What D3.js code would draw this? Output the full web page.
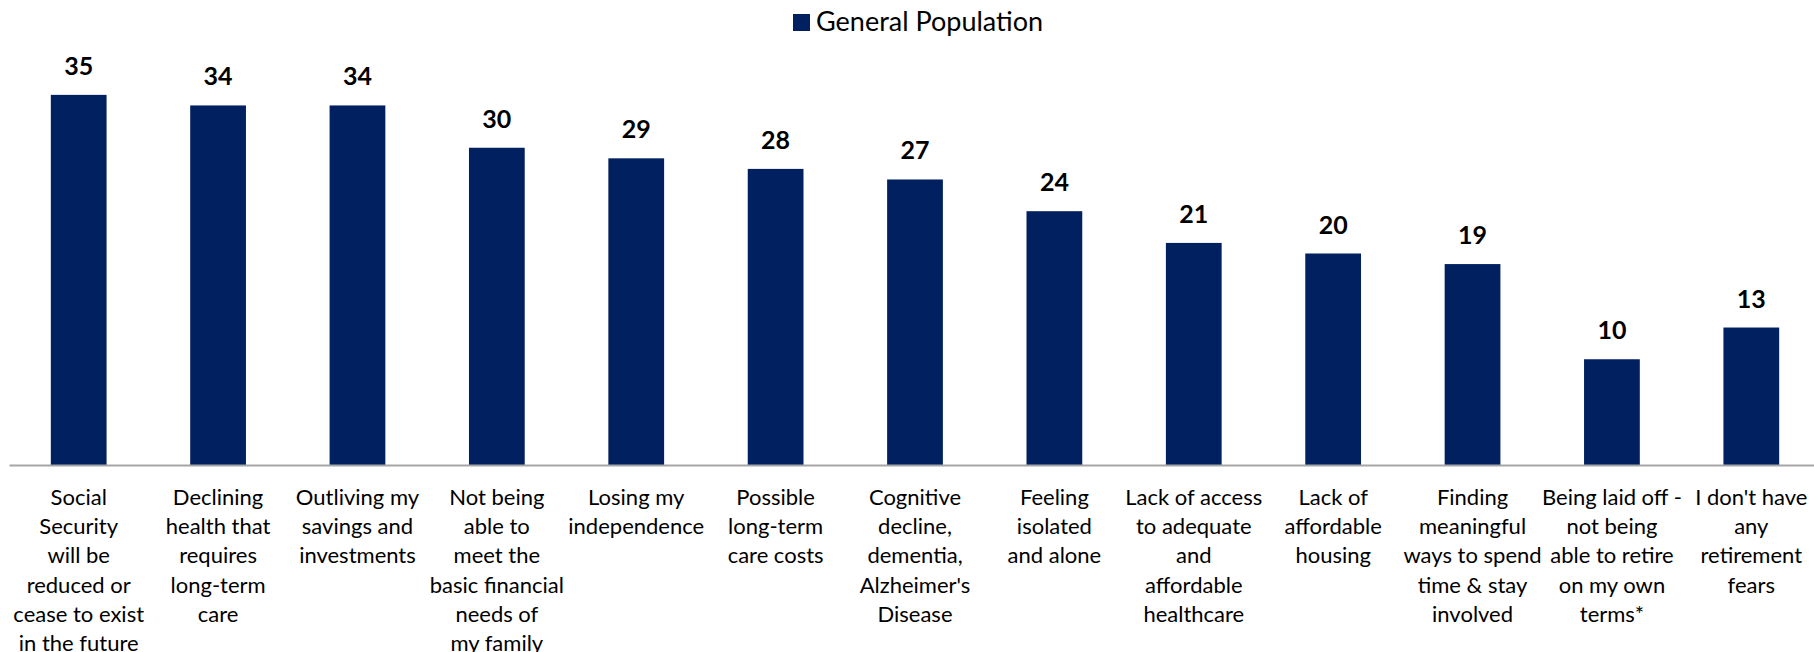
<!DOCTYPE html>
<html>
<head>
<meta charset="utf-8">
<script src="https://cdn.jsdelivr.net/npm/d3@7"></script>
<style>
  body { margin: 0; background: #fff; }
  text { font-family: Lato, "Open Sans", sans-serif; }
</style>
</head>
<body>
<div id="chart"></div>
<script>
const SIZE = { width: 1814, height: 652 }
const BAR_COLOR = '#002060'

const categories = [
  ['Social', 'Security', 'will be', 'reduced or', 'cease to exist', 'in the future'],
  ['Declining', 'health that', 'requires', 'long-term', 'care'],
  ['Outliving my', 'savings and', 'investments'],
  ['Not being', 'able to', 'meet the', 'basic financial', 'needs of', 'my family'],
  ['Losing my', 'independence'],
  ['Possible', 'long-term', 'care costs'],
  ['Cognitive', 'decline,', 'dementia,', "Alzheimer's", 'Disease'],
  ['Feeling', 'isolated', 'and alone'],
  ['Lack of access', 'to adequate', 'and', 'affordable', 'healthcare'],
  ['Lack of', 'affordable', 'housing'],
  ['Finding', 'meaningful', 'ways to spend', 'time & stay', 'involved'],
  ['Being laid off -', 'not being', 'able to retire', 'on my own', 'terms*'],
  ["I don't have", 'any', 'retirement', 'fears'],
]
const values = [35, 34, 34, 30, 29, 28, 27, 24, 21, 20, 19, 10, 13]
const seriesName = 'General Population'

function defineSVG (params) {
  const { selector, size } = params
  return d3.select(selector)
    .append('svg')
    .attr('width', size.width)
    .attr('height', size.height)
}

const svg = defineSVG({ selector: '#chart', size: SIZE })

const x = d3.scaleBand()
  .domain(d3.range(categories.length))
  .range([9, 1821])
  .paddingInner(0.6)
  .paddingOuter(0.3)

const y = d3.scaleLinear()
  .domain([0, 40])
  .range([465, 42])

// bars
svg.append('g')
  .selectAll('rect')
  .data(values)
  .enter()
  .append('rect')
  .attr('x', (d, i) => x(i))
  .attr('y', d => y(d))
  .attr('width', x.bandwidth())
  .attr('height', d => y(0) - y(d))
  .attr('fill', BAR_COLOR)

// value labels
svg.append('g')
  .selectAll('text')
  .data(values)
  .enter()
  .append('text')
  .attr('x', (d, i) => x(i) + x.bandwidth() / 2)
  .attr('y', d => y(d) - 20)
  .attr('text-anchor', 'middle')
  .attr('font-size', 25)
  .attr('font-weight', 'bold')
  .attr('fill', '#000')
  .text(d => d)

// x axis
const xAxis = svg.append('g')
  .attr('transform', `translate(0,${y(0)})`)
  .call(d3.axisBottom(x).tickSize(0).tickFormat(''))
xAxis.select('.domain')
  .attr('stroke', '#a6a6a6')
  .attr('stroke-width', 2)

const labels = svg.append('g')
  .selectAll('text')
  .data(categories)
  .enter()
  .append('text')
  .attr('text-anchor', 'middle')
  .attr('font-size', 22)
  .attr('fill', '#000')
  .attr('transform', (d, i) => `translate(${x(i) + x.bandwidth() / 2},505)`)

labels.selectAll('tspan')
  .data(d => d)
  .enter()
  .append('tspan')
  .attr('x', 0)
  .attr('y', (d, j) => j * 29.2)
  .text(d => d)

// legend
const legend = svg.append('g')
  .attr('transform', 'translate(793,14)')
legend.append('rect')
  .attr('width', 17)
  .attr('height', 17)
  .attr('fill', BAR_COLOR)
legend.append('text')
  .attr('x', 23)
  .attr('y', 17)
  .attr('font-size', 27)
  .attr('fill', '#000')
  .text(seriesName)
</script>
</body>
</html>
